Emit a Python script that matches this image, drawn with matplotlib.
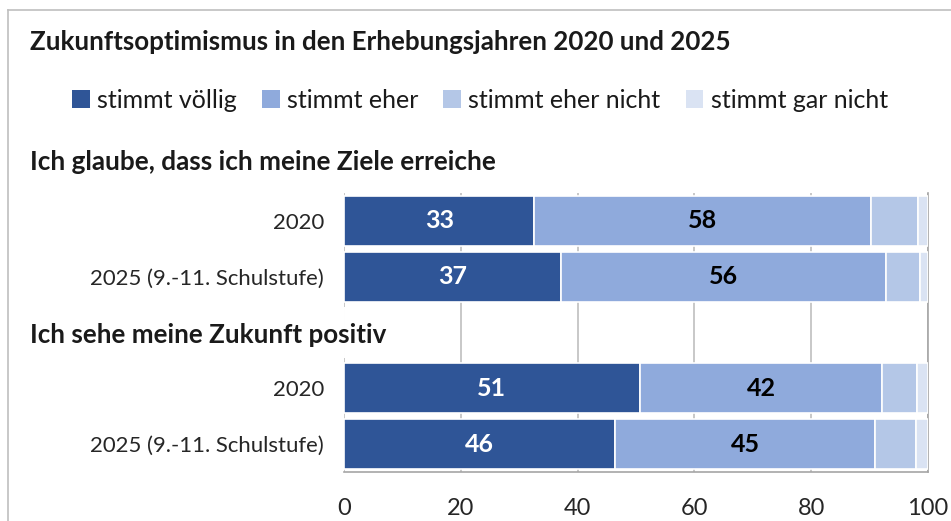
import matplotlib
matplotlib.use("Agg")
import matplotlib.pyplot as plt
from matplotlib.patches import Patch
from matplotlib.lines import Line2D
import numpy as np

plt.rcParams['font.family'] = ['Lato', 'DejaVu Sans']

title = "Zukunftsoptimismus in den Erhebungsjahren 2020 und 2025"
legend_labels = ["stimmt völlig", "stimmt eher", "stimmt eher nicht", "stimmt gar nicht"]
colors = ["#2F5597", "#8FAADC", "#B4C7E7", "#DAE3F3"]
heading1 = "Ich glaube, dass ich meine Ziele erreiche"
heading2 = "Ich sehe meine Zukunft positiv"
row_labels = ["2020", "2025 (9.-11. Schulstufe)", "", "2020", "2025 (9.-11. Schulstufe)"]

# values per row (empty slot for the second heading)
voellig = [32.6, 37.2, 0, 50.6, 46.4]
eher = [57.7, 55.6, 0, 41.6, 44.6]
eher_nicht = [8.0, 5.8, 0, 6.0, 7.0]
gar_nicht = [1.7, 1.4, 0, 1.8, 2.0]
xticks = [0, 20, 40, 60, 80, 100]

W, H = 951, 521
fig = plt.figure(figsize=(W / 100, H / 100), dpi=100)

def px(x, y):
    return x / W, 1 - y / H

# outer chart frame
fig.add_artist(Line2D([8 / W, 1], [1 - 10 / H] * 2, color="#BFBFBF", lw=1.2, transform=fig.transFigure))
fig.add_artist(Line2D([8 / W] * 2, [0, 1 - 10 / H], color="#BFBFBF", lw=1.2, transform=fig.transFigure))

l, t, r, b = 344, 193, 928, 472
ax = fig.add_axes([l / W, 1 - b / H, (r - l) / W, (b - t) / H])

y = np.arange(len(row_labels))
series = [voellig, eher, eher_nicht, gar_nicht]
left = np.zeros(len(y))
bars_all = []
for vals, c, lab in zip(series, colors, legend_labels):
    vals = np.array(vals, dtype=float)
    bars = ax.barh(y, vals, left=left, height=0.9, color=c, edgecolor="white", linewidth=1.2, label=lab, zorder=3)
    bars_all.append((bars, vals, left.copy()))
    left = left + vals

# data labels
for idx, (bars, vals, lft) in enumerate(bars_all[:2]):
    for yi, v, lf in zip(y, vals, lft):
        if v <= 0:
            continue
        ax.text(lf + v / 2, yi, f"{v:.0f}", ha="center", va="center", fontsize=18, fontweight="bold",
                color="white" if idx == 0 else "black", zorder=5)

ax.set_xlim(0, 100)
ax.set_ylim(len(y) - 0.5, -0.5)
ax.set_xticks(xticks)
ax.set_xticklabels([str(v) for v in xticks])
ax.set_yticks([0, 1, 3, 4])
ax.set_yticklabels([row_labels[i] for i in [0, 1, 3, 4]])
ax.tick_params(axis="y", length=0, pad=14.5, labelsize=15.9, labelcolor="#262626")
ax.tick_params(axis="x", length=0, pad=18.5, labelsize=17, labelcolor="#262626")
ax.xaxis.grid(True, color="#BFBFBF", linewidth=1.2, zorder=0)
ax.set_axisbelow(True)
for s in ["top", "left"]:
    ax.spines[s].set_visible(False)
for s in ["right", "bottom"]:
    ax.spines[s].set_color("#A6A6A6")
    ax.spines[s].set_linewidth(1.2)

# title and headings
fig.text(*px(30, 42), title, ha="left", va="center", fontsize=18.6, fontweight="bold", color="#1a1a1a")
fig.text(*px(30, 162), heading1, ha="left", va="center", fontsize=18.8, fontweight="bold", color="#1a1a1a")
fig.text(*px(30, 335), heading2, ha="left", va="center", fontsize=18.7, fontweight="bold", color="#1a1a1a")

handles = [Patch(facecolor=c, edgecolor="none") for c in colors]
fig.legend(handles, legend_labels, loc="center", bbox_to_anchor=px(480, 100), ncol=4, frameon=False,
           fontsize=18, handlelength=0.7, handleheight=0.7, handletextpad=0.3, columnspacing=1.0,
           labelcolor="#1a1a1a")

fig.savefig("out.png", dpi=100)
